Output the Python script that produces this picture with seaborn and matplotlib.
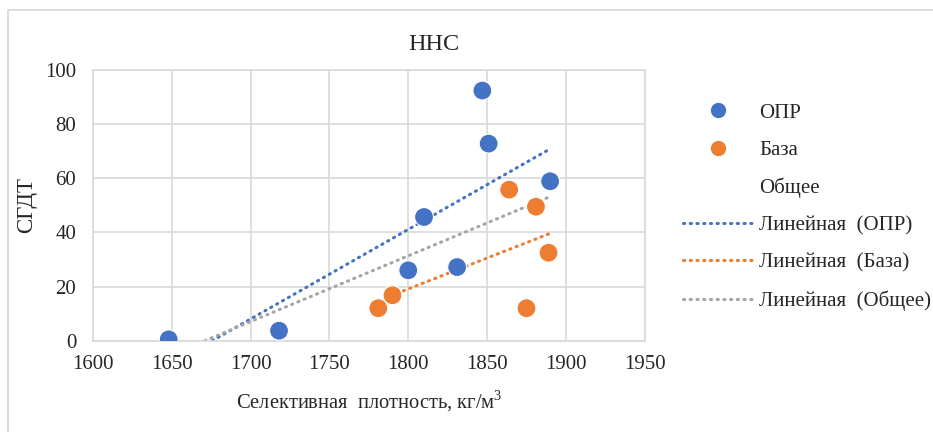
import numpy as np
import pandas as pd
import matplotlib
matplotlib.use("Agg")
import matplotlib.pyplot as plt
import seaborn as sns
from matplotlib.lines import Line2D

# ---- data ----
opr_x = [1648, 1718, 1847, 1851, 1890, 1810, 1800, 1831]
opr_y = [0.5, 3.7, 92.4, 72.8, 58.9, 45.7, 26.0, 27.2]
baza_x = [1781, 1790, 1864, 1881, 1889, 1875]
baza_y = [12.0, 16.8, 55.8, 49.5, 32.5, 12.0]
title = "ННС"
xlabel = "Селективная  плотность, кг/м$^3$"
ylabel = "СГДТ"
x_ticks = [1600, 1650, 1700, 1750, 1800, 1850, 1900, 1950]
y_ticks = [0, 20, 40, 60, 80, 100]

BLUE = "#4472C4"
ORANGE = "#ED7D31"
GRAY = "#A5A5A5"

sns.set_style("white")
plt.rcParams['font.family'] = ['Liberation Serif', 'DejaVu Serif']
plt.rcParams['mathtext.fontset'] = 'custom'
plt.rcParams['mathtext.rm'] = 'Liberation Serif'

df = pd.DataFrame({
    "x": opr_x + baza_x,
    "y": opr_y + baza_y,
    "group": ["ОПР"] * len(opr_x) + ["База"] * len(baza_x),
})

fig = plt.figure(figsize=(9.33, 4.32), dpi=100)
ax = fig.add_axes([0.0997, 0.2113, 0.5913, 0.6267])

sns.scatterplot(data=df, x="x", y="y", hue="group",
                palette={"ОПР": BLUE, "База": ORANGE},
                s=185, edgecolor="white", linewidth=0.8, legend=False, ax=ax, zorder=3)

LS = (0, (0.4, 1.8))


def trend(xs, ys, color):
    xs = np.asarray(xs, float)
    ys = np.asarray(ys, float)
    k, b = np.polyfit(xs, ys, 1)
    x0 = xs.min()
    if k * x0 + b < 0:
        x0 = -b / k
    xx = np.array([x0, xs.max()])
    sns.lineplot(x=xx, y=k * xx + b, color=color, lw=2.2,
                 linestyle=LS, dash_capstyle="round",
                 ax=ax, zorder=2, legend=False)


trend(opr_x, opr_y, BLUE)
trend(baza_x, baza_y, ORANGE)
trend(opr_x + baza_x, opr_y + baza_y, GRAY)

ax.set_xlim(1600, 1950)
ax.set_ylim(0, 100)
ax.set_xticks(x_ticks)
ax.set_yticks(y_ticks)
ax.grid(True, color="#D9D9D9", lw=1.2)
ax.set_axisbelow(True)
for sp in ax.spines.values():
    sp.set_color("#D9D9D9")
    sp.set_linewidth(1.2)
ax.tick_params(axis="both", length=0, labelsize=15)
ax.tick_params(axis="x", pad=10)
ax.tick_params(axis="y", pad=12)
ax.set_xlabel(xlabel, fontsize=14.8, labelpad=11)
ax.set_ylabel(ylabel, fontsize=16.5, labelpad=6)
fig.text(434 / 933, 1 - 44.5 / 432, title, fontsize=17.5, ha="center", va="center")

lstyle = dict(lw=2.2, linestyle=LS, dash_capstyle="round")
handles = [
    Line2D([], [], marker="o", color="none", markerfacecolor=BLUE, markeredgecolor=BLUE, markersize=10),
    Line2D([], [], marker="o", color="none", markerfacecolor=ORANGE, markeredgecolor=ORANGE, markersize=10),
    Line2D([], [], color="none"),
    Line2D([], [], color=BLUE, **lstyle),
    Line2D([], [], color=ORANGE, **lstyle),
    Line2D([], [], color=GRAY, **lstyle),
]
labels = ["ОПР", "База", "Общее", "Линейная  (ОПР)", "Линейная  (База)", "Линейная  (Общее)"]
fig.legend(handles, labels, loc="upper left", bbox_to_anchor=(0.732, 0.7616),
           frameon=False, fontsize=15, handlelength=3.33, handletextpad=0.33,
           labelspacing=0.85, borderpad=0, borderaxespad=0)

# chart-area border (left and top edges visible in the reference crop)
bx, by = 8 / 933, 1 - 9.5 / 432
fig.add_artist(Line2D([bx, bx], [0, by], transform=fig.transFigure, color="#D9D9D9", lw=1.3))
fig.add_artist(Line2D([bx, 1], [by, by], transform=fig.transFigure, color="#D9D9D9", lw=1.3))

fig.savefig("out.png", dpi=100)
